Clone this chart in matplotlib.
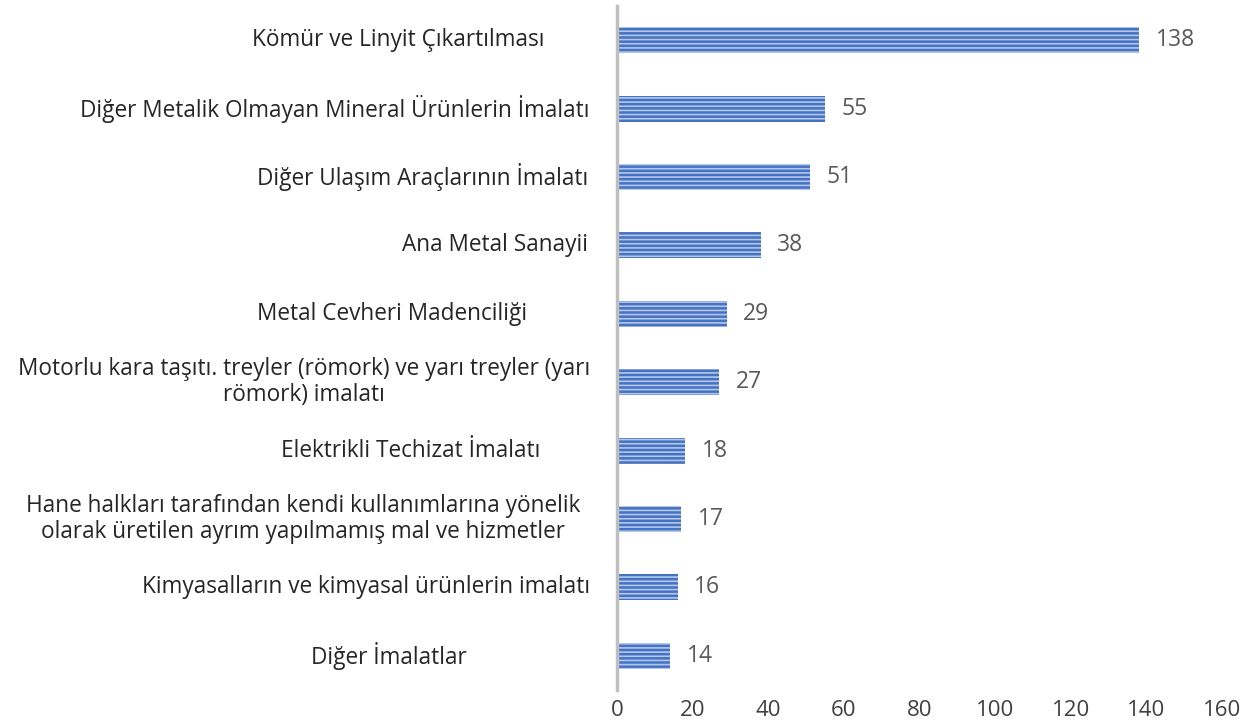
import matplotlib.pyplot as plt
import matplotlib.transforms as mtransforms

plt.rcParams['font.family'] = ['Open Sans', 'DejaVu Sans']
plt.rcParams['hatch.linewidth'] = 1.2

categories = [
    'Kömür ve Linyit Çıkartılması',
    'Diğer Metalik Olmayan Mineral Ürünlerin İmalatı',
    'Diğer Ulaşım Araçlarının İmalatı',
    'Ana Metal Sanayii',
    'Metal Cevheri Madenciliği',
    'Motorlu kara taşıtı. treyler (römork) ve yarı treyler (yarı\nrömork) imalatı',
    'Elektrikli Techizat İmalatı',
    'Hane halkları tarafından kendi kullanımlarına yönelik\nolarak üretilen ayrım yapılmamış mal ve hizmetler',
    'Kimyasalların ve kimyasal ürünlerin imalatı',
    'Diğer İmalatlar',
]
values = [138, 55, 51, 38, 29, 27, 18, 17, 16, 14]
xticks = [0, 20, 40, 60, 80, 100, 120, 140, 160]

# right edge of each category label in pixels (Excel's odd alignment)
label_right_px = [545, 590, 588, 588, 527, 590, 540, 580, 590, 467]

W, H = 1252, 728
fig = plt.figure(figsize=(W / 100, H / 100), dpi=100)
ax = fig.add_axes([617 / W, 1 - 690 / H, (1222 - 617) / W, (690 - 6) / H])

ypos = list(range(len(values)))
ax.barh(ypos, values, height=0.38, color='#4472C4', edgecolor='#B4C7E7',
        hatch='----', linewidth=0)
ax.set_ylim(len(values) - 0.5, -0.5)
ax.set_xlim(0, 160)

for y, v in zip(ypos, values):
    ax.annotate(str(v), (v, y), xytext=(12, 0), textcoords='offset points',
                va='center', ha='left', fontsize=16.5, color='#595959')

trans = mtransforms.blended_transform_factory(fig.transFigure, ax.transData)
for y, lab, rpx in zip(ypos, categories, label_right_px):
    fig.text(rpx / W, y, lab, transform=trans, ha='right', va='center',
             multialignment='center', fontsize=16.3, color='#262626',
             linespacing=1.1)

ax.set_yticks([])
ax.set_xticks(xticks)
ax.tick_params(axis='x', length=0, labelsize=16, labelcolor='#404040', pad=7)
for s in ['top', 'right', 'bottom']:
    ax.spines[s].set_visible(False)
ax.spines['left'].set_color('#BFBFBF')
ax.spines['left'].set_linewidth(2.5)

fig.savefig('out.png', dpi=100)
